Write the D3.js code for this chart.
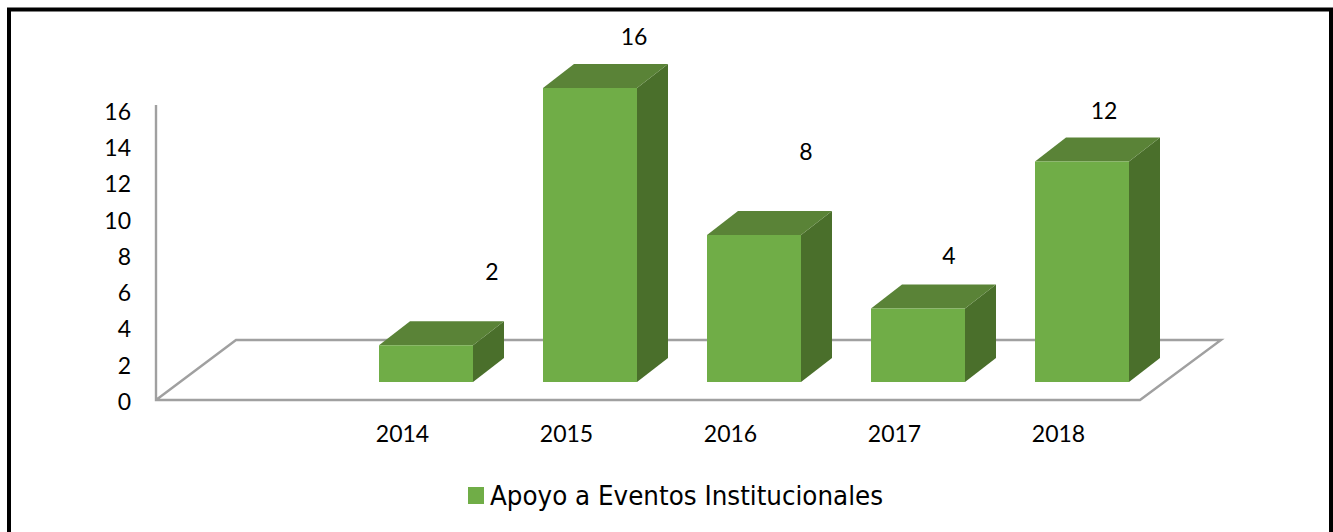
<!DOCTYPE html>
<html>
<head>
<meta charset="utf-8">
<script src="https://cdn.jsdelivr.net/npm/d3@7.9.0/dist/d3.min.js"></script>
<style>
  html, body { margin: 0; padding: 0; background: #fff; }
  svg { display: block; }
  text { font-family: Lato, "Open Sans", sans-serif; font-size: 23px; fill: #000; }
</style>
</head>
<body>
<svg width="1333" height="532"></svg>
<script>
const years = ['2014', '2015', '2016', '2017', '2018'];
const apoyo = [2, 16, 8, 4, 12];
const yTicks = [0, 2, 4, 6, 8, 10, 12, 14, 16];
const seriesName = 'Apoyo a Eventos Institucionales';

const svg = d3.select('svg');

// outer frame
svg.append('rect')
  .attr('x', 9).attr('y', 9.5)
  .attr('width', 1322).attr('height', 530)
  .attr('fill', '#fff').attr('stroke', '#000').attr('stroke-width', 4);

// bar fronts sit above the floor edge, axis labels run down to the edge itself
let x = d3.scaleBand().domain(years).range([379, 1129]).paddingInner(70 / 164).paddingOuter(0);
let xLabels = d3.scalePoint().domain(years).range([402, 1058]);
let y = d3.scaleLinear().domain([0, 16]).range([382, 88]);
let yAxisScale = d3.scaleLinear().domain([0, 16]).range([402, 112]);

const depth = { dx: 31, dy: -24 };

// floor and back of the y axis
svg.append('path')
  .attr('d', 'M156,105V400H1140L1221,340H236L156,400')
  .attr('fill', 'none')
  .attr('stroke', '#a0a0a0')
  .attr('stroke-width', 2.4);

let yAxis = d3.axisLeft(yAxisScale).tickValues(yTicks).tickSize(0).tickPadding(0);
let yG = svg.append('g').attr('transform', 'translate(131,0)').call(yAxis);
yG.select('.domain').remove();
yG.selectAll('text').attr('x', 0).style('font-size', '23px').style('font-family', 'Lato, sans-serif');

let xAxis = d3.axisBottom(xLabels).tickSize(0).tickPadding(0);
let xG = svg.append('g').attr('transform', 'translate(0,434)').call(xAxis);
xG.select('.domain').remove();
xG.selectAll('text').attr('y', 0).attr('dy', '0.35em').style('font-size', '23px').style('font-family', 'Lato, sans-serif');

// each column is three faces
let bars = svg.append('g').selectAll('g')
  .data(years.map((year, i) => ({ year, value: apoyo[i] })))
  .join('g');

function face(d, kind) {
  let l = x(d.year), r = l + x.bandwidth(), t = y(d.value), b = y(0);
  if (kind === 'top') return `M${l},${t}L${l + depth.dx},${t + depth.dy}H${r + depth.dx}L${r},${t}Z`;
  if (kind === 'side') return `M${r},${t}L${r + depth.dx},${t + depth.dy}V${b + depth.dy}L${r},${b}Z`;
  return `M${l},${t}H${r}V${b}H${l}Z`;
}

bars.append('path').attr('d', d => face(d, 'side')).attr('fill', '#4a6f2b');
bars.append('path').attr('d', d => face(d, 'top')).attr('fill', '#5a8337');
bars.append('path').attr('d', d => face(d, 'front')).attr('fill', '#70ad47');

// value labels were dragged by hand in the original, so each has its own offset
const labelNudge = [[66, -73], [44, -51], [52, -83], [31, -53], [22, -51]];
svg.append('g').selectAll('text')
  .data(apoyo)
  .join('text')
  .attr('text-anchor', 'middle')
  .attr('dy', '0.35em')
  .attr('x', (d, i) => x(years[i]) + x.bandwidth() / 2 + labelNudge[i][0])
  .attr('y', (d, i) => y(d) + labelNudge[i][1])
  .text(d => d);

// legend
let legend = svg.append('g').attr('transform', 'translate(468,487)');
legend.append('rect').attr('width', 16).attr('height', 17).attr('fill', '#70ad47');
legend.append('text')
  .attr('x', 22).attr('y', 18)
  .style('font-family', '"DejaVu Sans", sans-serif')
  .style('font-size', '26px')
  .attr('textLength', 393)
  .attr('lengthAdjust', 'spacingAndGlyphs')
  .text(seriesName);
</script>
</body>
</html>
